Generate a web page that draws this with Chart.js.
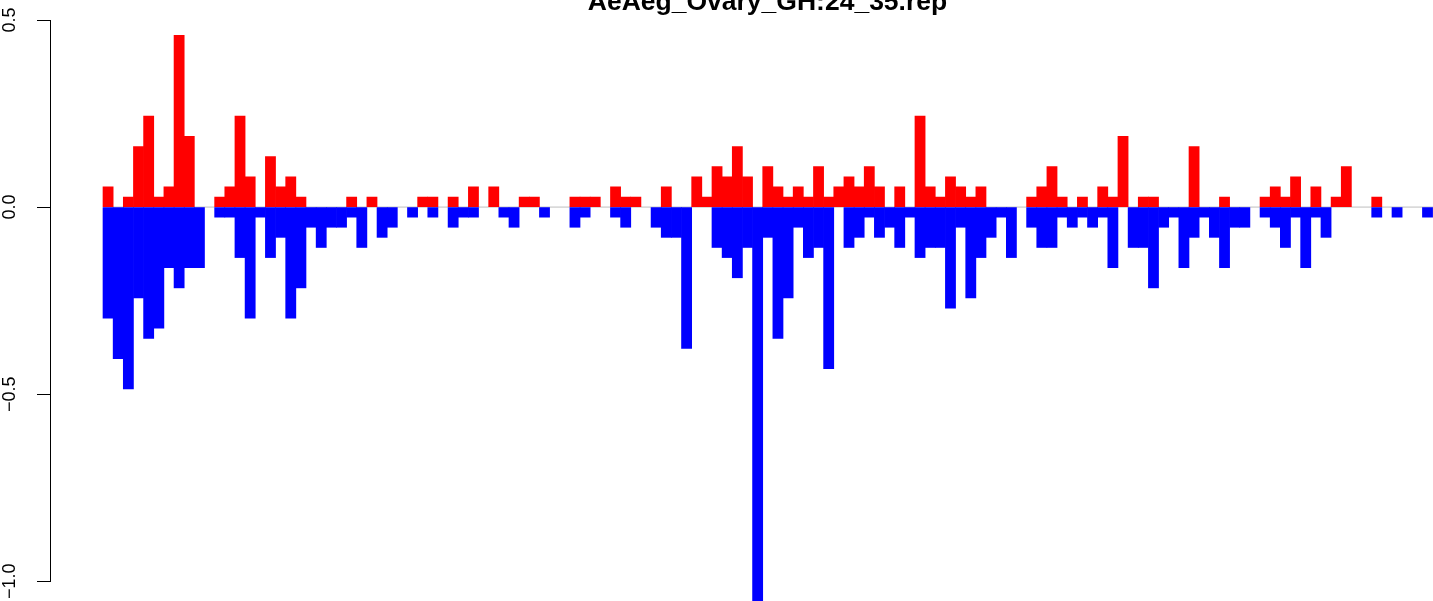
<!DOCTYPE html>
<html>
<head>
<meta charset="utf-8">
<title>AeAeg_Ovary_GH:24_35.rep</title>
<script src="https://cdn.jsdelivr.net/npm/chart.js@4.4.1/dist/chart.umd.min.js"></script>
<style>
  body { margin: 0; background: #fff; }
  #wrap { width: 1433px; height: 601px; }
</style>
</head>
<body>
<div id="wrap"><canvas id="myChart" width="1433" height="601"></canvas></div>
<script>
const chartTitle = "AeAeg_Ovary_GH:24_35.rep";

// one value per bin, red = positive part, blue = negative part
const redValues = [
    0.054, 0, 0.027, 0.162, 0.243, 0.027, 0.054, 0.459, 0.189, 0,
    0, 0.027, 0.054, 0.243, 0.081, 0, 0.135, 0.054, 0.081, 0.027,
    0, 0, 0, 0, 0.027, 0, 0.027, 0, 0, 0,
    0, 0.027, 0.027, 0, 0.027, 0, 0.054, 0, 0.054, 0,
    0, 0.027, 0.027, 0, 0, 0, 0.027, 0.027, 0.027, 0,
    0.054, 0.027, 0.027, 0, 0, 0.054, 0, 0, 0.081, 0.027,
    0.108, 0.081, 0.162, 0.081, 0, 0.108, 0.054, 0.027, 0.054, 0.027,
    0.108, 0.027, 0.054, 0.081, 0.054, 0.108, 0.054, 0, 0.054, 0,
    0.243, 0.054, 0.027, 0.081, 0.054, 0.027, 0.054, 0, 0, 0,
    0, 0.027, 0.054, 0.108, 0.027, 0, 0.027, 0, 0.054, 0.027,
    0.189, 0, 0.027, 0.027, 0, 0, 0, 0.162, 0, 0,
    0.027, 0, 0, 0, 0.027, 0.054, 0.027, 0.081, 0, 0.054,
    0, 0.027, 0.108, 0, 0, 0.027, 0, 0, 0, 0, 0
];

const blueValues = [
    -0.297, -0.405, -0.486, -0.243, -0.351, -0.324, -0.162, -0.216, -0.162, -0.162,
    0, -0.027, -0.027, -0.135, -0.297, -0.027, -0.135, -0.081, -0.297, -0.216,
    -0.054, -0.108, -0.054, -0.054, -0.027, -0.108, 0, -0.081, -0.054, 0,
    -0.027, 0, -0.027, 0, -0.054, -0.027, -0.027, 0, 0, -0.027,
    -0.054, 0, 0, -0.027, 0, 0, -0.054, -0.027, 0, 0,
    -0.027, -0.054, 0, 0, -0.054, -0.081, -0.081, -0.378, 0, 0,
    -0.108, -0.135, -0.189, -0.108, -1.08, -0.081, -0.351, -0.243, -0.054, -0.135,
    -0.108, -0.432, 0, -0.108, -0.081, -0.027, -0.081, -0.054, -0.108, -0.027,
    -0.135, -0.108, -0.108, -0.270, -0.054, -0.243, -0.135, -0.081, -0.027, -0.135,
    0, -0.054, -0.108, -0.108, -0.027, -0.054, -0.027, -0.054, -0.027, -0.162,
    0, -0.108, -0.108, -0.216, -0.054, -0.027, -0.162, -0.081, -0.027, -0.081,
    -0.162, -0.054, -0.054, 0, -0.027, -0.054, -0.108, -0.027, -0.162, -0.027,
    -0.081, 0, 0, 0, 0, -0.027, 0, -0.027, 0, 0, -0.027
];

const yTicks = [-1.0, -0.5, 0.0, 0.5];

// bins are just positions 0..n-1 on a linear x axis
const bins = redValues.map((v, i) => i);

function toPoints(values) {
    // zero bars are skipped, otherwise they leave a thin sliver on the baseline
    return values.map((v, i) => ({ x: bins[i], y: v === 0 ? null : v }));
}

// grey zero line under the bars, only across the bar region
const zeroLine = {
    id: "zeroLine",
    beforeDatasetsDraw(chart) {
        const ctx = chart.ctx;
        const x = chart.scales.x;
        const y = chart.scales.y.getPixelForValue(0);
        ctx.save();
        ctx.strokeStyle = "#bebebe";
        ctx.lineWidth = 1;
        ctx.beginPath();
        ctx.moveTo(x.getPixelForValue(bins[0] - 0.5), y);
        ctx.lineTo(chart.chartArea.right, y);
        ctx.stroke();
        ctx.restore();
    }
};

// R style title, centred over the plot region and partly cut off at the top
const topTitle = {
    id: "topTitle",
    afterDraw(chart) {
        const ctx = chart.ctx;
        ctx.save();
        ctx.fillStyle = "#000";
        ctx.font = "bold 26.5px 'Liberation Sans', Arial, sans-serif";
        ctx.textAlign = "center";
        ctx.textBaseline = "alphabetic";
        ctx.fillText(chartTitle, 767.5, 9.5);
        ctx.restore();
    }
};

window.myChart = new Chart("myChart", {
    type: "bar",
    data: {
        datasets: [{
            data: toPoints(redValues),
            backgroundColor: "#ff0000",
            borderWidth: 0,
            grouped: false,
            barPercentage: 1,
            categoryPercentage: 1
        }, {
            data: toPoints(blueValues),
            backgroundColor: "#0000ff",
            borderWidth: 0,
            grouped: false,
            barPercentage: 1,
            categoryPercentage: 1,
            clip: false
        }]
    },
    options: {
        responsive: false,
        animation: false,
        devicePixelRatio: 1,
        layout: { padding: { top: 20, bottom: 18, left: 0, right: 0 } },
        plugins: {
            legend: { display: false },
            tooltip: { enabled: false },
            title: { display: false }
        },
        scales: {
            x: {
                type: "linear",
                display: false,
                offset: false,
                min: -5.722,
                max: 130.54,
                ticks: { includeBounds: false }
            },
            y: {
                min: yTicks[0],
                max: yTicks[yTicks.length - 1],
                afterFit(scale) { scale.width = 50; },
                afterBuildTicks(scale) { scale.ticks = yTicks.map(v => ({ value: v })); },
                ticks: {
                    minRotation: 90,
                    maxRotation: 90,
                    crossAlign: "center",
                    padding: 9,
                    color: "#000",
                    font: { family: "'Liberation Sans', Arial, sans-serif", size: 18 },
                    callback: v => v.toFixed(1).replace("-", "\u2212")
                },
                grid: {
                    drawOnChartArea: false,
                    drawTicks: true,
                    tickLength: 13,
                    color: "#000",
                    lineWidth: 1
                },
                border: { color: "#000", width: 1 }
            }
        }
    },
    plugins: [zeroLine, topTitle]
});
</script>
</body>
</html>
